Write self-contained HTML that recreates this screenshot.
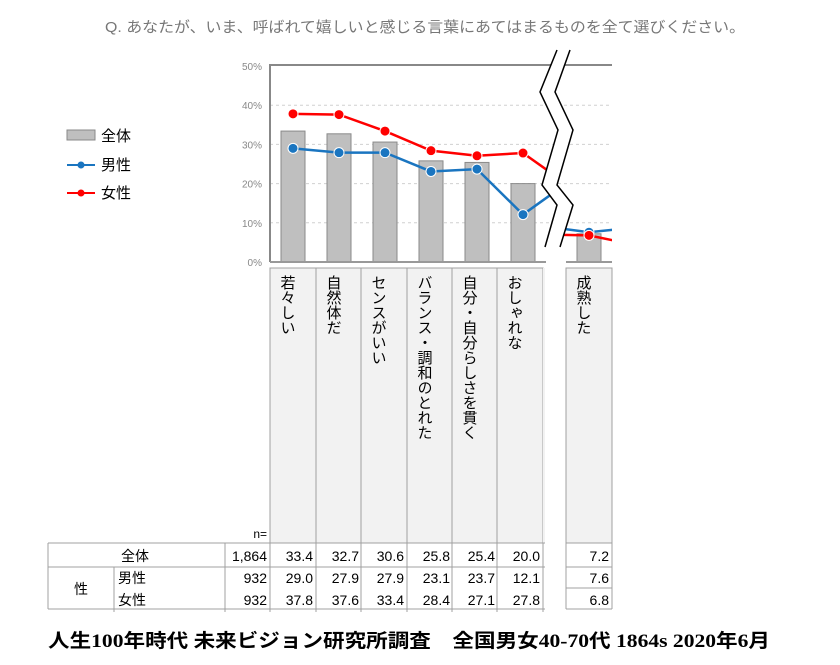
<!DOCTYPE html>
<html><head><meta charset="utf-8"><style>
body{margin:0;background:#fff;width:840px;height:665px;overflow:hidden}
svg{display:block}
text{font-family:"Liberation Sans","Noto Sans CJK JP",sans-serif}
</style></head><body>
<svg id="chart" width="840" height="665">
<text x="105" y="32" textLength="640" lengthAdjust="spacingAndGlyphs" font-size="15" fill="#777">Q. あなたが、いま、呼ばれて嬉しいと感じる言葉にあてはまるものを全て選びください。</text>
<g>
<rect x="67" y="130" width="28" height="10" fill="#bfbfbf" stroke="#888"/>
<text x="101" y="141" font-size="15">全体</text>
<line x1="67" y1="165" x2="95" y2="165" stroke="#1a75c0" stroke-width="2"/>
<circle cx="81" cy="165" r="3.5" fill="#1a75c0"/>
<text x="101" y="170" font-size="15">男性</text>
<line x1="67" y1="193" x2="95" y2="193" stroke="#f00" stroke-width="2"/>
<circle cx="81" cy="193" r="3.5" fill="#f00"/>
<text x="101" y="198" font-size="15">女性</text>
</g>
<g id="plot"></g>
<g id="table"></g>
<text x="48" y="647" font-size="19" font-weight="bold" textLength="722" lengthAdjust="spacingAndGlyphs" style="font-family:'Liberation Serif','Noto Sans CJK JP',serif">人生100年時代 未来ビジョン研究所調査　全国男女40-70代 1864s  2020年6月</text>
</svg>
<script>
const categories=["若々しい","自然体だ","センスがいい","バランス・調和のとれた","自分・自分らしさを貫く","おしゃれな"];
const totalVals=[33.4,32.7,30.6,25.8,25.4,20.0];
const maleVals=[29.0,27.9,27.9,23.1,23.7,12.1];
const femaleVals=[37.8,37.6,33.4,28.4,27.1,27.8];
const maleNextHidden=20.5, femaleNextHidden=19.5;
const extraCategory="成熟した";
const extraTotal=7.2, extraMale=7.6, extraFemale=6.8;
const malePrevHidden=9.1, femalePrevHidden=7.0, maleNextExtra=8.8, femaleNextExtra=4.3;
const nVals=["1,864","932","932"];
const yTicks=[0,10,20,30,40,50];

const NS="http://www.w3.org/2000/svg";
const plot=document.getElementById('plot'), table=document.getElementById('table');
function mk(tag,attrs,parent){const e=document.createElementNS(NS,tag);for(const k in attrs)e.setAttribute(k,attrs[k]);(parent||plot).appendChild(e);return e;}
const y0=262, pxPer=3.92;
const Y=v=>y0-v*pxPer;
const colL=[270,316,361,407,452,497];
const colW=46;
const X=i=>270+colW*i+23;
const XE=589;

const defs=mk('defs',{});
const c1=mk('clipPath',{id:'clipA'},defs);mk('rect',{x:270,y:60,width:285,height:205},c1);
const c2=mk('clipPath',{id:'clipB'},defs);mk('rect',{x:556,y:60,width:56,height:205},c2);

yTicks.forEach(t=>{
  if(t>0&&t<50){const g=mk('line',{x1:270,x2:612,y1:Y(t),y2:Y(t),stroke:'#d0d0d0','stroke-dasharray':'3,3'});
  
  }
  const tx=mk('text',{x:262,y:Y(t)+4,'text-anchor':'end','font-size':'10',fill:'#888'});tx.textContent=t+'%';
  
  
});
totalVals.forEach((v,i)=>{const r=mk('rect',{x:X(i)-12,y:Y(v),width:24,height:y0-Y(v),fill:'#bfbfbf',stroke:'#8a8a8a'});
  
  });
const rb=mk('rect',{x:XE-12,y:Y(extraTotal),width:24,height:y0-Y(extraTotal),fill:'#bfbfbf',stroke:'#8a8a8a'});


const ax=mk('path',{d:'M270 '+y0+' V65 H612',fill:'none',stroke:'#888','stroke-width':2});


const xb=mk('path',{d:'M270 '+y0+' H612',stroke:'#999','stroke-width':2});



function series(vals,next,prev,extra,nextE,color,name){
  const ptsA=vals.map((v,i)=>[X(i),Y(v)]);ptsA.push([X(6),Y(next)]);
  const la=mk('polyline',{points:ptsA.map(p=>p.join(',')).join(' '),fill:'none',stroke:color,'stroke-width':2.5,'clip-path':'url(#clipA)'});
  
  
  const ptsB=[[544,Y(prev)],[XE,Y(extra)],[636,Y(nextE)]];
  const lb=mk('polyline',{points:ptsB.map(p=>p.join(',')).join(' '),fill:'none',stroke:color,'stroke-width':2.5,'clip-path':'url(#clipB)'});
  
  
  vals.forEach((v,i)=>{const c=mk('circle',{cx:X(i),cy:Y(v),r:5,fill:color,stroke:'#fff','stroke-width':1});
    
    });
  const ce=mk('circle',{cx:XE,cy:Y(extra),r:5,fill:color,stroke:'#fff','stroke-width':1});
  
  
}
series(maleVals,maleNextHidden,malePrevHidden,extraMale,maleNextExtra,'#1a75c0','male');
series(femaleVals,femaleNextHidden,femalePrevHidden,extraFemale,femaleNextExtra,'#f00','female');

const L=[[557,50],[540,92],[558,130],[542,185],[557,205],[545,247]];
const R=[[570,50],[555,92],[573,130],[557,185],[573,205],[560,247]];
const poly=L.concat(R.slice().reverse());
const bw=mk('polygon',{points:poly.map(p=>p.join(',')).join(' '),fill:'#fff'});


mk('rect',{x:546,y:246,width:20,height:20,fill:'#fff'});
[L,R].forEach((s,k)=>{const p=mk('polyline',{points:s.map(p=>p.join(',')).join(' '),fill:'none',stroke:'#000','stroke-width':1.5});
  
  });

function hdr(x,w,label,name){
  const r=mk('rect',{x:x,y:268,width:w,height:275,fill:'#f2f2f2',stroke:'#a0a0a0'},table);
  
  
  const t=mk('text',{x:x+w/2-6,y:275,'font-size':'15',style:'writing-mode:vertical-rl'},table);
  t.textContent=label;
  
  
}
categories.forEach((c,i)=>hdr(colL[i],colW,c,i));
mk('rect',{x:543,y:268,width:2,height:275,fill:'#f2f2f2'},table);
hdr(566,46,extraCategory,'extra');
const nt=mk('text',{x:267,y:538,'text-anchor':'end','font-size':'12'},table);nt.textContent='n=';



const tl=(d,name)=>{const p=mk('path',{d:d,stroke:'#a0a0a0','stroke-width':1,fill:'none'},table);
  
  };
tl('M48 543 H545 M566 543 H612','table-top-line');
tl('M48 567 H545 M566 567 H612','table-row-line');
tl('M48 609 H545 M566 609 H612','table-bottom-line');
tl('M48 543 V609 M225 543 V612 M114 567 V612','table-vlines-left');
[270,316,361,407,452,497,543].forEach(x=>tl('M'+x+' 543 V612','table-vline-'+x));
tl('M566 543 V609 M612 543 V609','table-vlines-extra');
tl('M566 588 H612','table-extra-row-line');
function tt(x,y,s,anchor,name){const t=mk('text',{x:x,y:y,'font-size':'14','text-anchor':anchor||'end'},table);t.textContent=s;
  
  }
tt(135,561,'全体','middle','row-label-total');
tt(81,594,'性','middle','row-label-sex');
tt(118,583,'男性','start','row-label-male');
tt(118,605,'女性','start','row-label-female');
const rowsY=[561,583,605];
nVals.forEach((n,r)=>tt(267,rowsY[r],n,'end','n-'+r));
[totalVals,maleVals,femaleVals].forEach((arr,r)=>arr.forEach((v,i)=>tt(colL[i]+colW-3,rowsY[r],v.toFixed(1),'end','value-'+r+'-'+i)));
[extraTotal,extraMale,extraFemale].forEach((v,r)=>tt(609,rowsY[r],v.toFixed(1),'end','value-extra-'+r));
</script>
</body></html>
